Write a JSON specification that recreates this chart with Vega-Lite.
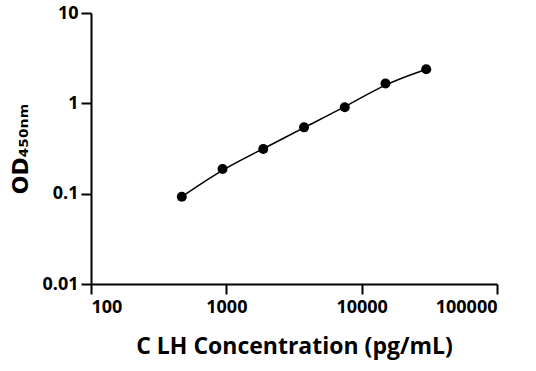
{
  "$schema": "https://vega.github.io/schema/vega-lite/v6.json",
  "autosize": {"type": "none"},
  "padding": {"left": 91, "top": 13, "right": 39, "bottom": 87},
  "width": 406,
  "height": 271,
  "background": "white",
  "config": {
    "view": {"stroke": null},
    "font": "Open Sans",
    "axis": {
      "grid": false,
      "domainColor": "black",
      "domainWidth": 2,
      "tickColor": "black",
      "tickWidth": 2,
      "tickSize": 10,
      "labelColor": "black",
      "labelFont": "Open Sans",
      "labelFontWeight": "bold",
      "labelFontSize": 18,
      "titleColor": "black",
      "titleFont": "Open Sans",
      "titleFontWeight": "bold",
      "titleFontSize": 23
    }
  },
  "data": {
    "values": [
      {"conc": 468.75, "od": 0.0925},
      {"conc": 937.5, "od": 0.1875},
      {"conc": 1875, "od": 0.312},
      {"conc": 3750, "od": 0.542},
      {"conc": 7500, "od": 0.903},
      {"conc": 15000, "od": 1.66},
      {"conc": 30000, "od": 2.38}
    ]
  },
  "encoding": {
    "x": {
      "field": "conc",
      "type": "quantitative",
      "scale": {"type": "log", "domain": [100, 100000], "nice": false},
      "axis": {
        "values": [100, 1000, 10000, 100000],
        "format": "d",
        "labelPadding": 4,
        "title": "C LH Concentration (pg/mL)",
        "titlePadding": 19
      }
    },
    "y": {
      "field": "od",
      "type": "quantitative",
      "scale": {"type": "log", "domain": [0.01, 10], "nice": false},
      "axis": {
        "values": [0.01, 0.1, 1, 10],
        "format": "~g",
        "labelPadding": 3,
        "title": "OD₄₅₀ₙₘ",
        "titleFont": "DejaVu Sans",
        "titleFontSize": 22,
        "titlePadding": 9
      }
    }
  },
  "layer": [
    {
      "mark": {"type": "line", "interpolate": "basis", "color": "black", "strokeWidth": 1.5}
    },
    {
      "mark": {"type": "point", "filled": true, "color": "black", "opacity": 1, "size": 100}
    }
  ]
}
